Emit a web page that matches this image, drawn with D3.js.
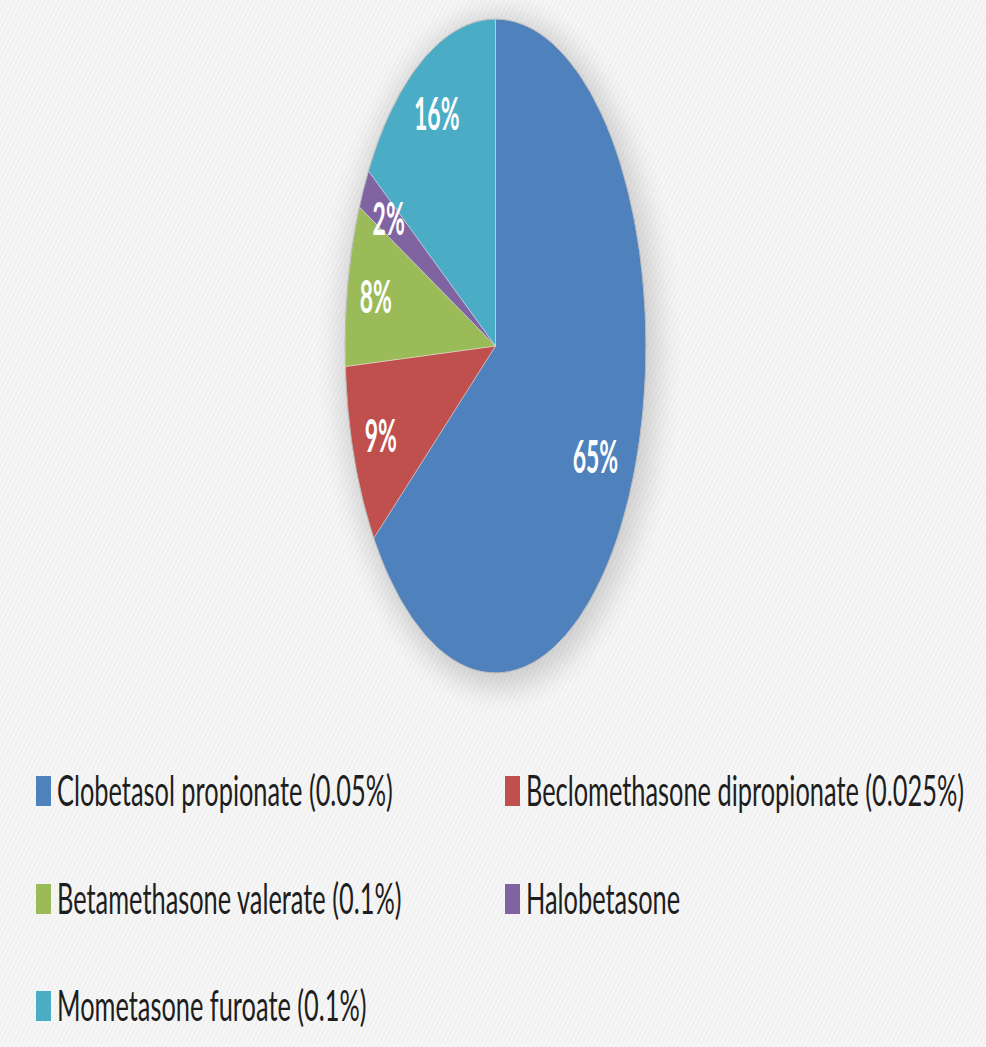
<!DOCTYPE html>
<html>
<head>
<meta charset="utf-8">
<script src="https://cdn.jsdelivr.net/npm/d3@7/dist/d3.min.js"></script>
<style>
html,body{margin:0;padding:0;background:#f6f6f6;}
svg{display:block;}
</style>
</head>
<body>
<svg id="chart" width="986" height="1047"></svg>
<script>
// ---- data ----
const categories = [
  "Clobetasol propionate (0.05%)",
  "Beclomethasone dipropionate (0.025%)",
  "Betamethasone valerate (0.1%)",
  "Halobetasone",
  "Mometasone furoate (0.1%)"
];
const values = [65, 9, 8, 2, 16];
const colors = ["#4F81BD", "#C0504D", "#9BBB59", "#8064A2", "#4BACC6"];

// ---- layout ----
const W = 986, H = 1047;
const cx = 495.5, cy = 346;
const R = 327;             // vertical radius
const sx = 150.5 / 327;    // horizontal squeeze of the whole picture
const fontStack = "Lato, 'Open Sans', 'DejaVu Sans', sans-serif";
const legendSqueeze = 0.59;
const labelSqueeze = 0.5;

const svg = d3.select("#chart");
const defs = svg.append("defs");

// background stripes
const pat = defs.append("pattern").attr("id", "stripes")
  .attr("width", 4).attr("height", 4)
  .attr("patternUnits", "userSpaceOnUse")
  .attr("patternTransform", "rotate(25)");
pat.append("rect").attr("width", 4).attr("height", 4).attr("fill", "#f7f7f7");
pat.append("rect").attr("width", 1.6).attr("height", 4).attr("fill", "#efefef");

const blur = defs.append("filter").attr("id", "shadow")
  .attr("x", "-30%").attr("y", "-30%").attr("width", "160%").attr("height", "160%");
blur.append("feGaussianBlur").attr("stdDeviation", 14);

svg.append("rect").attr("width", W).attr("height", H).attr("fill", "url(#stripes)");

// pie
const pie = d3.pie().sort(null).value(d => d.value);
const data = pie(categories.map((c, i) => ({ name: c, value: values[i], color: colors[i] })));
const arc = d3.arc().innerRadius(0).outerRadius(R);

svg.append("ellipse")
  .attr("cx", cx + 4).attr("cy", cy + 6)
  .attr("rx", R * sx + 8).attr("ry", R + 10)
  .attr("fill", "#000").attr("opacity", 0.16)
  .attr("filter", "url(#shadow)");

const pieG = svg.append("g")
  .attr("transform", `translate(${cx},${cy}) scale(${sx},1)`);

pieG.selectAll("path.slice").data(data).enter().append("path")
  .attr("class", "slice")
  .attr("d", arc)
  .attr("fill", d => d.data.color)
  .attr("stroke", "rgba(255,255,255,0.35)")
  .attr("stroke-width", 1)
  .attr("vector-effect", "non-scaling-stroke");

pieG.append("circle").attr("r", R).attr("fill", "none")
  .attr("stroke", "#b9b9b9").attr("stroke-width", 1)
  .attr("vector-effect", "non-scaling-stroke");

// labels
const total = d3.sum(values);
svg.selectAll("text.plabel").data(data).enter().append("text")
  .attr("class", "plabel")
  .attr("transform", d => {
    const lr = (d.value / total > 0.5 ? 0.745 : 0.81) * R;
    const c = d3.arc().innerRadius(lr).outerRadius(lr).centroid(d);
    return `translate(${cx + c[0] * sx},${cy + c[1]}) scale(${labelSqueeze},1)`;
  })
  .attr("text-anchor", "middle")
  .attr("dy", "0.36em")
  .attr("fill", "#fff")
  .attr("font-family", fontStack)
  .attr("font-weight", "bold")
  .attr("font-size", 46)
  .text(d => Math.round(d.value / total * 100) + "%");

// legend
const colX = [36, 505];
const rowBase = [806, 914, 1021];
const leg = svg.selectAll("g.leg").data(data).enter().append("g")
  .attr("class", "leg")
  .attr("transform", (d, i) => `translate(${colX[i % 2]},${rowBase[Math.floor(i / 2)]})`);
leg.append("rect")
  .attr("x", 0).attr("y", -30).attr("width", 15).attr("height", 30)
  .attr("fill", d => d.data.color);
leg.append("text")
  .attr("transform", `translate(21,0) scale(${legendSqueeze},1)`)
  .attr("fill", "#1e1e1e")
  .attr("font-family", fontStack)
  .attr("font-size", 43)
  .text(d => d.data.name);
</script>
</body>
</html>
